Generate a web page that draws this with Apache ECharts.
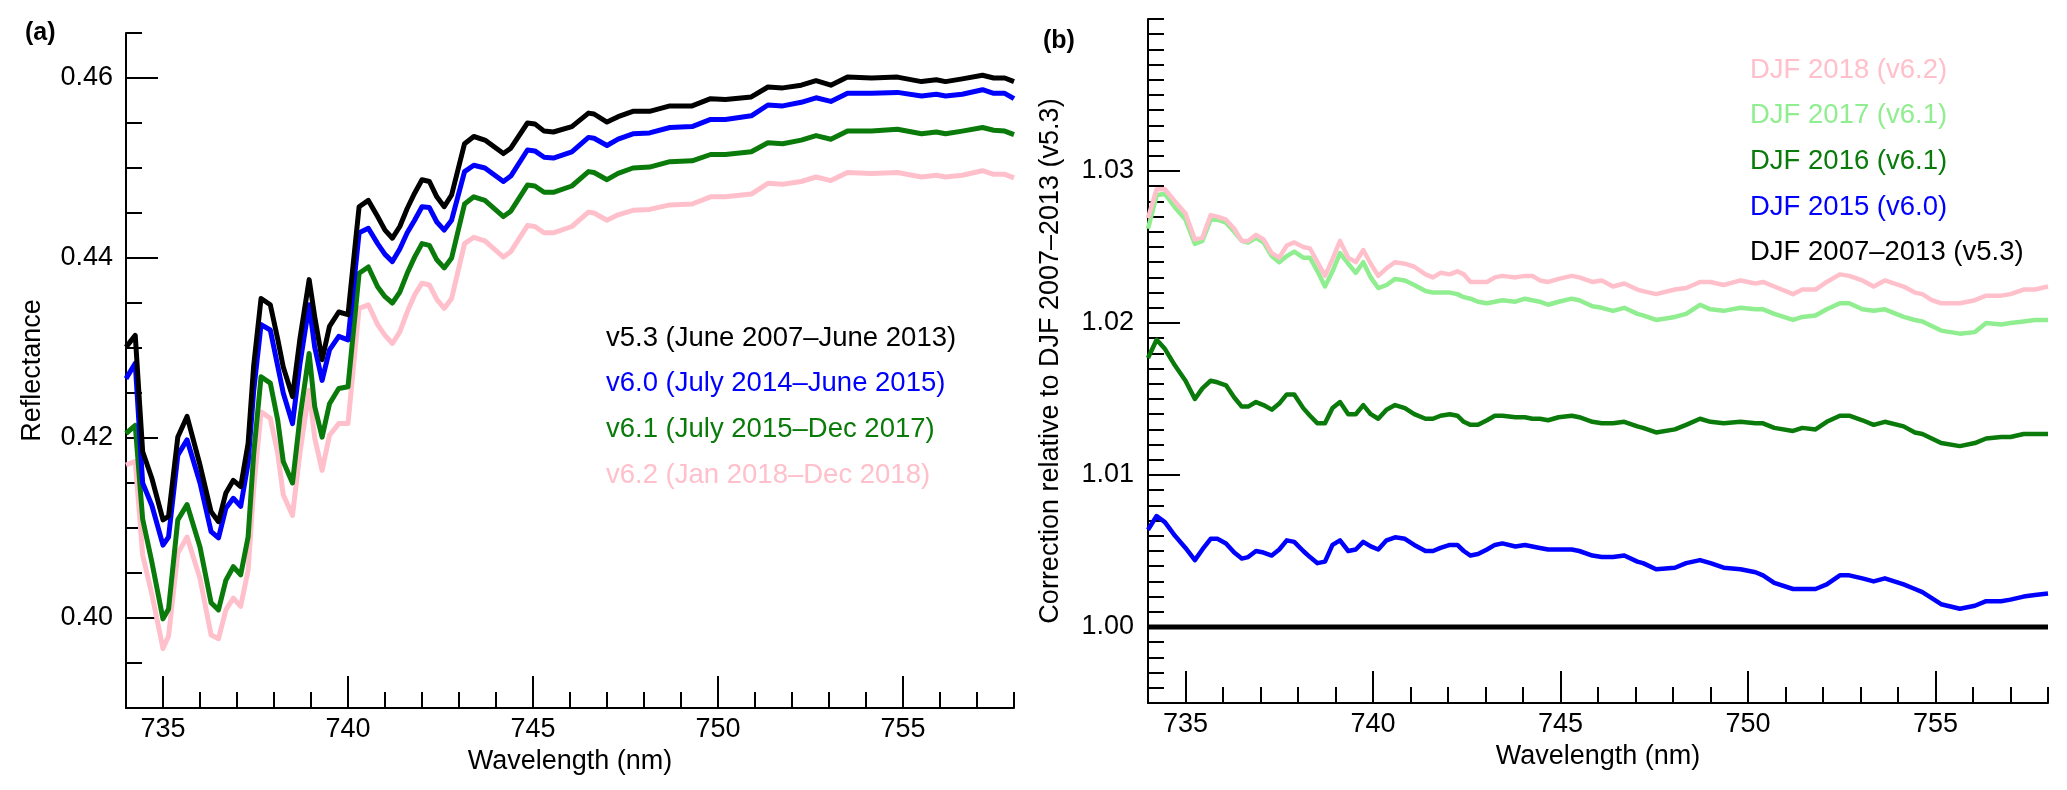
<!DOCTYPE html>
<html>
<head>
<meta charset="utf-8">
<script src="https://cdn.jsdelivr.net/npm/echarts@6/dist/echarts.min.js"></script>
<style>html,body{margin:0;padding:0;background:#fff}#c{width:2067px;height:790px}</style>
</head>
<body>
<div id="c"></div>
<script>
// ---------- Panel (a): reflectance ----------
const wlA = [734.0, 734.25, 734.45, 734.7, 735.0, 735.15, 735.4, 735.65, 736.0, 736.3, 736.5, 736.7, 736.9, 737.1, 737.3, 737.45, 737.65, 737.9, 738.1, 738.25, 738.5, 738.7, 738.95, 739.1, 739.3, 739.5, 739.75, 740.0, 740.3, 740.55, 740.8, 741.0, 741.2, 741.4, 741.6, 741.8, 742.0, 742.2, 742.4, 742.6, 742.8, 743.15, 743.4, 743.7, 744.2, 744.4, 744.85, 745.05, 745.3, 745.55, 746.05, 746.5, 746.65, 747.0, 747.3, 747.7, 748.15, 748.7, 749.3, 749.8, 750.2, 750.9, 751.35, 751.75, 752.25, 752.65, 753.05, 753.5, 754.15, 754.85, 755.5, 755.9, 756.15, 756.6, 757.15, 757.45, 757.75, 758.0];
const reflV53 = [0.4301, 0.4314, 0.4185, 0.4155, 0.4109, 0.4113, 0.4201, 0.4224, 0.4170, 0.4118, 0.4107, 0.4139, 0.4153, 0.4146, 0.4194, 0.4280, 0.4355, 0.4348, 0.4310, 0.4279, 0.4246, 0.4310, 0.4376, 0.4335, 0.4287, 0.4324, 0.4340, 0.4337, 0.4457, 0.4464, 0.4446, 0.4431, 0.4422, 0.4435, 0.4455, 0.4472, 0.4487, 0.4485, 0.4468, 0.4457, 0.4470, 0.4527, 0.4535, 0.4531, 0.4516, 0.4522, 0.4550, 0.4549, 0.4541, 0.4540, 0.4546, 0.4561, 0.4560, 0.4551, 0.4557, 0.4563, 0.4563, 0.4569, 0.4569, 0.4577, 0.4576, 0.4579, 0.4590, 0.4589, 0.4592, 0.4597, 0.4592, 0.4601, 0.4600, 0.4601, 0.4596, 0.4598, 0.4596, 0.4599, 0.4603, 0.4600, 0.4600, 0.4596];
const reflV60 = [0.4266, 0.4283, 0.4150, 0.4125, 0.4081, 0.4090, 0.4181, 0.4198, 0.4150, 0.4096, 0.4089, 0.4122, 0.4133, 0.4124, 0.4172, 0.4252, 0.4326, 0.4320, 0.4280, 0.4250, 0.4216, 0.4282, 0.4348, 0.4301, 0.4264, 0.4298, 0.4313, 0.4309, 0.4428, 0.4433, 0.4416, 0.4404, 0.4396, 0.4410, 0.4428, 0.4442, 0.4457, 0.4456, 0.4440, 0.4431, 0.4442, 0.4496, 0.4503, 0.4500, 0.4485, 0.4491, 0.4520, 0.4519, 0.4512, 0.4511, 0.4518, 0.4534, 0.4533, 0.4525, 0.4532, 0.4538, 0.4539, 0.4545, 0.4546, 0.4554, 0.4554, 0.4558, 0.4570, 0.4569, 0.4573, 0.4578, 0.4574, 0.4583, 0.4583, 0.4584, 0.4580, 0.4582, 0.4580, 0.4582, 0.4587, 0.4583, 0.4583, 0.4577];
const reflV61 = [0.4205, 0.4214, 0.4110, 0.4062, 0.3999, 0.4010, 0.4109, 0.4126, 0.4079, 0.4017, 0.4009, 0.4042, 0.4057, 0.4048, 0.4090, 0.4182, 0.4268, 0.4261, 0.4220, 0.4174, 0.4150, 0.4222, 0.4294, 0.4235, 0.4201, 0.4238, 0.4255, 0.4257, 0.4383, 0.4390, 0.4368, 0.4357, 0.4350, 0.4362, 0.4383, 0.4401, 0.4416, 0.4414, 0.4398, 0.4389, 0.4400, 0.4460, 0.4468, 0.4464, 0.4446, 0.4452, 0.4481, 0.4480, 0.4473, 0.4473, 0.4480, 0.4496, 0.4495, 0.4487, 0.4494, 0.4500, 0.4501, 0.4507, 0.4508, 0.4515, 0.4515, 0.4518, 0.4528, 0.4527, 0.4531, 0.4536, 0.4532, 0.4541, 0.4541, 0.4543, 0.4538, 0.4540, 0.4538, 0.4541, 0.4545, 0.4542, 0.4541, 0.4537];
const reflV62 = [0.4170, 0.4174, 0.4070, 0.4026, 0.3966, 0.3980, 0.4072, 0.4090, 0.4044, 0.3981, 0.3977, 0.4009, 0.4022, 0.4013, 0.4053, 0.4143, 0.4229, 0.4222, 0.4183, 0.4137, 0.4114, 0.4183, 0.4253, 0.4200, 0.4164, 0.4203, 0.4216, 0.4216, 0.4344, 0.4348, 0.4326, 0.4314, 0.4305, 0.4318, 0.4340, 0.4359, 0.4372, 0.4370, 0.4354, 0.4344, 0.4355, 0.4416, 0.4423, 0.4419, 0.4401, 0.4407, 0.4436, 0.4435, 0.4428, 0.4428, 0.4435, 0.4451, 0.4450, 0.4442, 0.4448, 0.4453, 0.4454, 0.4459, 0.4460, 0.4468, 0.4468, 0.4471, 0.4483, 0.4482, 0.4485, 0.4490, 0.4486, 0.4495, 0.4494, 0.4495, 0.4490, 0.4492, 0.4490, 0.4492, 0.4497, 0.4493, 0.4493, 0.4489];

// ---------- Panel (b): correction relative to DJF 2007-2013 ----------
const wlB = [734.0, 734.23, 734.45, 734.72, 735.0, 735.25, 735.45, 735.67, 735.85, 736.08, 736.3, 736.5, 736.67, 736.88, 737.08, 737.3, 737.5, 737.7, 737.9, 738.14, 738.32, 738.52, 738.72, 738.92, 739.12, 739.34, 739.54, 739.74, 739.94, 740.14, 740.36, 740.59, 740.85, 741.1, 741.4, 741.6, 741.8, 742.05, 742.25, 742.42, 742.6, 742.8, 743.04, 743.25, 743.45, 743.8, 744.05, 744.25, 744.45, 744.67, 744.95, 745.3, 745.5, 745.85, 746.1, 746.4, 746.7, 747.05, 747.2, 747.55, 748.05, 748.35, 748.72, 749.0, 749.35, 749.8, 750.2, 750.4, 750.7, 751.2, 751.45, 751.8, 752.1, 752.45, 752.7, 753.05, 753.35, 753.65, 754.15, 754.45, 754.65, 754.9, 755.15, 755.65, 756.05, 756.35, 756.75, 757.0, 757.35, 757.65, 758.0];
const corrDJF2018 = [1.0269, 1.0288, 1.0288, 1.0280, 1.0272, 1.0255, 1.0256, 1.0271, 1.0270, 1.0268, 1.0262, 1.0254, 1.0254, 1.0258, 1.0255, 1.0246, 1.0243, 1.0251, 1.0253, 1.0250, 1.0249, 1.0240, 1.0231, 1.0242, 1.0254, 1.0243, 1.0240, 1.0248, 1.0239, 1.0231, 1.0236, 1.0240, 1.0239, 1.0237, 1.0232, 1.0230, 1.0233, 1.0232, 1.0234, 1.0232, 1.0227, 1.0227, 1.0227, 1.0230, 1.0231, 1.0230, 1.0231, 1.0231, 1.0228, 1.0227, 1.0229, 1.0231, 1.0230, 1.0227, 1.0228, 1.0224, 1.0226, 1.0222, 1.0221, 1.0219, 1.0222, 1.0223, 1.0227, 1.0227, 1.0225, 1.0228, 1.0226, 1.0227, 1.0224, 1.0219, 1.0222, 1.0222, 1.0227, 1.0232, 1.0231, 1.0228, 1.0224, 1.0228, 1.0224, 1.0220, 1.0219, 1.0215, 1.0213, 1.0213, 1.0215, 1.0218, 1.0218, 1.0219, 1.0222, 1.0222, 1.0224];
const corrDJF2017 = [1.0262, 1.0284, 1.0285, 1.0276, 1.0268, 1.0252, 1.0254, 1.0268, 1.0268, 1.0266, 1.0260, 1.0254, 1.0253, 1.0256, 1.0253, 1.0244, 1.0240, 1.0244, 1.0247, 1.0243, 1.0243, 1.0234, 1.0224, 1.0234, 1.0246, 1.0239, 1.0233, 1.0240, 1.0230, 1.0223, 1.0225, 1.0229, 1.0228, 1.0225, 1.0221, 1.0220, 1.0220, 1.0220, 1.0219, 1.0217, 1.0216, 1.0214, 1.0213, 1.0214, 1.0215, 1.0214, 1.0216, 1.0215, 1.0214, 1.0212, 1.0214, 1.0216, 1.0215, 1.0211, 1.0210, 1.0208, 1.0210, 1.0206, 1.0205, 1.0202, 1.0204, 1.0206, 1.0212, 1.0209, 1.0208, 1.0210, 1.0209, 1.0209, 1.0206, 1.0202, 1.0204, 1.0205, 1.0209, 1.0213, 1.0213, 1.0209, 1.0208, 1.0209, 1.0204, 1.0202, 1.0201, 1.0198, 1.0195, 1.0193, 1.0194, 1.0200, 1.0199, 1.0200, 1.0201, 1.0202, 1.0202];
const corrDJF2016 = [1.0177, 1.0189, 1.0183, 1.0172, 1.0162, 1.0150, 1.0157, 1.0162, 1.0161, 1.0159, 1.0151, 1.0145, 1.0145, 1.0148, 1.0146, 1.0143, 1.0147, 1.0153, 1.0153, 1.0144, 1.0139, 1.0134, 1.0134, 1.0144, 1.0148, 1.0140, 1.0140, 1.0146, 1.0140, 1.0137, 1.0143, 1.0146, 1.0144, 1.0140, 1.0137, 1.0137, 1.0139, 1.0140, 1.0139, 1.0135, 1.0133, 1.0133, 1.0136, 1.0139, 1.0139, 1.0138, 1.0138, 1.0137, 1.0137, 1.0136, 1.0138, 1.0139, 1.0138, 1.0135, 1.0134, 1.0134, 1.0135, 1.0132, 1.0131, 1.0128, 1.0130, 1.0133, 1.0137, 1.0135, 1.0134, 1.0135, 1.0134, 1.0134, 1.0131, 1.0129, 1.0131, 1.0130, 1.0135, 1.0139, 1.0139, 1.0136, 1.0133, 1.0135, 1.0132, 1.0128, 1.0127, 1.0124, 1.0121, 1.0119, 1.0121, 1.0124, 1.0125, 1.0125, 1.0127, 1.0127, 1.0127];
const corrDJF2015 = [1.0064, 1.0073, 1.0069, 1.0060, 1.0052, 1.0044, 1.0051, 1.0058, 1.0058, 1.0055, 1.0049, 1.0045, 1.0046, 1.0050, 1.0049, 1.0047, 1.0051, 1.0057, 1.0056, 1.0050, 1.0046, 1.0042, 1.0043, 1.0054, 1.0057, 1.0050, 1.0051, 1.0056, 1.0053, 1.0051, 1.0057, 1.0059, 1.0058, 1.0054, 1.0050, 1.0050, 1.0052, 1.0054, 1.0054, 1.0050, 1.0047, 1.0048, 1.0051, 1.0054, 1.0055, 1.0053, 1.0054, 1.0053, 1.0052, 1.0051, 1.0051, 1.0051, 1.0050, 1.0047, 1.0046, 1.0046, 1.0047, 1.0043, 1.0042, 1.0038, 1.0039, 1.0042, 1.0044, 1.0042, 1.0039, 1.0038, 1.0036, 1.0034, 1.0029, 1.0025, 1.0025, 1.0025, 1.0028, 1.0034, 1.0034, 1.0032, 1.0030, 1.0032, 1.0028, 1.0025, 1.0023, 1.0019, 1.0015, 1.0012, 1.0014, 1.0017, 1.0017, 1.0018, 1.0020, 1.0021, 1.0022];
const refWl = [734.0, 758.0];
const corrDJF0713 = [1.0, 1.0];

// ---------- Ticks ----------
const xMajorTicks = [735, 740, 745, 750, 755];
const yMajorTicksA = [0.40, 0.42, 0.44, 0.46];
const yMajorTicksB = [1.00, 1.01, 1.02, 1.03];

const namesA = ['v5.3 (June 2007\u2013June 2013)', 'v6.0 (July 2014\u2013June 2015)', 'v6.1 (July 2015\u2013Dec 2017)', 'v6.2 (Jan 2018\u2013Dec 2018)'];
const namesB = ['DJF 2018 (v6.2)', 'DJF 2017 (v6.1)', 'DJF 2016 (v6.1)', 'DJF 2015 (v6.0)', 'DJF 2007\u20132013 (v5.3)'];

const FONT = '"Liberation Sans", Arial, Helvetica, sans-serif';
const FS = 27;
const C_BLACK = '#000000', C_BLUE = '#0000ff', C_GREEN = '#0a7a0a', C_PINK = '#ffc0cb', C_LGREEN = '#90ee90';

const pairs = (xs, ys) => xs.map((x, i) => [x, ys[i]]);

const G = [
  {left: 126, top: 33, width: 888, height: 675},
  {left: 1148, top: 19, width: 900, height: 684}
];

function mainX(gi, nameGap) {
  return {
    type: 'value', gridIndex: gi, position: 'bottom', min: 734, max: 758,
    name: 'Wavelength (nm)', nameLocation: 'middle', nameGap: nameGap,
    nameTextStyle: {fontFamily: FONT, fontSize: FS, color: '#000'},
    axisLine: {show: true, lineStyle: {color: '#000', width: 2}},
    axisTick: {show: true, inside: true, length: 32, customValues: xMajorTicks, lineStyle: {color: '#000', width: 2}},
    axisLabel: {show: true, customValues: xMajorTicks, margin: 8, fontFamily: FONT, fontSize: FS, color: '#000'},
    splitLine: {show: false}
  };
}
function minorX(gi, h) {
  return {
    type: 'value', gridIndex: gi, position: 'top', offset: -h, min: 734, max: 758, interval: 1,
    axisLine: {show: false}, axisLabel: {show: false}, splitLine: {show: false},
    axisTick: {show: true, inside: false, length: 16, lineStyle: {color: '#000', width: 2}}
  };
}
function mainY(gi, mn, mx, ticks, nameText, nameGap, margin) {
  return {
    type: 'value', gridIndex: gi, position: 'left', min: mn, max: mx,
    name: nameText, nameLocation: 'middle', nameGap: nameGap,
    nameTextStyle: {fontFamily: FONT, fontSize: FS, color: '#000'},
    axisLine: {show: true, lineStyle: {color: '#000', width: 2}},
    axisTick: {show: true, inside: true, length: 32, customValues: ticks, lineStyle: {color: '#000', width: 2}},
    axisLabel: {show: true, customValues: ticks, margin: margin, fontFamily: FONT, fontSize: FS, color: '#000',
      formatter: v => Number(v).toFixed(2)},
    splitLine: {show: false}
  };
}
function minorY(gi, mn, mx, step, w) {
  return {
    type: 'value', gridIndex: gi, position: 'right', offset: -w, min: mn, max: mx, interval: step,
    axisLine: {show: false}, axisLabel: {show: false}, splitLine: {show: false},
    axisTick: {show: true, inside: false, length: 16, lineStyle: {color: '#000', width: 2}}
  };
}

function line(name, xs, ys, color, xi, yi, w) {
  return {
    type: 'line', name: name, xAxisIndex: xi, yAxisIndex: yi, data: pairs(xs, ys),
    showSymbol: false, symbol: 'none', smooth: false, animation: false,
    lineStyle: {color: color, width: w, join: 'round'}, itemStyle: {color: color}
  };
}

const chart = echarts.init(document.getElementById('c'), null, {renderer: 'canvas', width: 2067, height: 790});

const legendTexts = [];
const colorsA = [C_BLACK, C_BLUE, C_GREEN, C_PINK];
namesA.forEach((t, i) => legendTexts.push({
  type: 'text', x: 606, y: 338 + i * 45.7,
  style: {text: t, fill: colorsA[i], font: '27.5px ' + FONT, align: 'left', verticalAlign: 'middle'}
}));
const colorsB = [C_PINK, C_LGREEN, C_GREEN, C_BLUE, C_BLACK];
namesB.forEach((t, i) => legendTexts.push({
  type: 'text', x: 1750, y: 70 + i * 45.7,
  style: {text: t, fill: colorsB[i], font: '27.5px ' + FONT, align: 'left', verticalAlign: 'middle'}
}));
legendTexts.push({type: 'text', x: 25, y: 33, style: {text: '(a)', fill: '#000', font: 'bold 25px ' + FONT, align: 'left', verticalAlign: 'middle'}});
legendTexts.push({type: 'text', x: 1043, y: 41, style: {text: '(b)', fill: '#000', font: 'bold 25px ' + FONT, align: 'left', verticalAlign: 'middle'}});

chart.setOption({
  backgroundColor: '#ffffff',
  animation: false,
  grid: G,
  xAxis: [mainX(0, 36), minorX(0, 675), mainX(1, 40), minorX(1, 684)],
  yAxis: [
    mainY(0, 0.39, 0.465, yMajorTicksA, 'Reflectance', 80, 13),
    minorY(0, 0.39, 0.465, 0.005, 888),
    mainY(1, 0.995, 1.04, yMajorTicksB, 'Correction relative to DJF 2007\u20132013 (v5.3)', 84, 14),
    minorY(1, 0.995, 1.04, 0.001, 900)
  ],
  series: [
    line(namesA[3], wlA, reflV62, C_PINK, 0, 0, 5),
    line(namesA[2], wlA, reflV61, C_GREEN, 0, 0, 5),
    line(namesA[1], wlA, reflV60, C_BLUE, 0, 0, 5),
    line(namesA[0], wlA, reflV53, C_BLACK, 0, 0, 5),
    line(namesB[4], refWl, corrDJF0713, C_BLACK, 2, 2, 5),
    line(namesB[3], wlB, corrDJF2015, C_BLUE, 2, 2, 4.5),
    line(namesB[2], wlB, corrDJF2016, C_GREEN, 2, 2, 4.5),
    line(namesB[1], wlB, corrDJF2017, C_LGREEN, 2, 2, 4.5),
    line(namesB[0], wlB, corrDJF2018, C_PINK, 2, 2, 4.5)
  ],
  graphic: legendTexts
});
</script>
</body>
</html>
